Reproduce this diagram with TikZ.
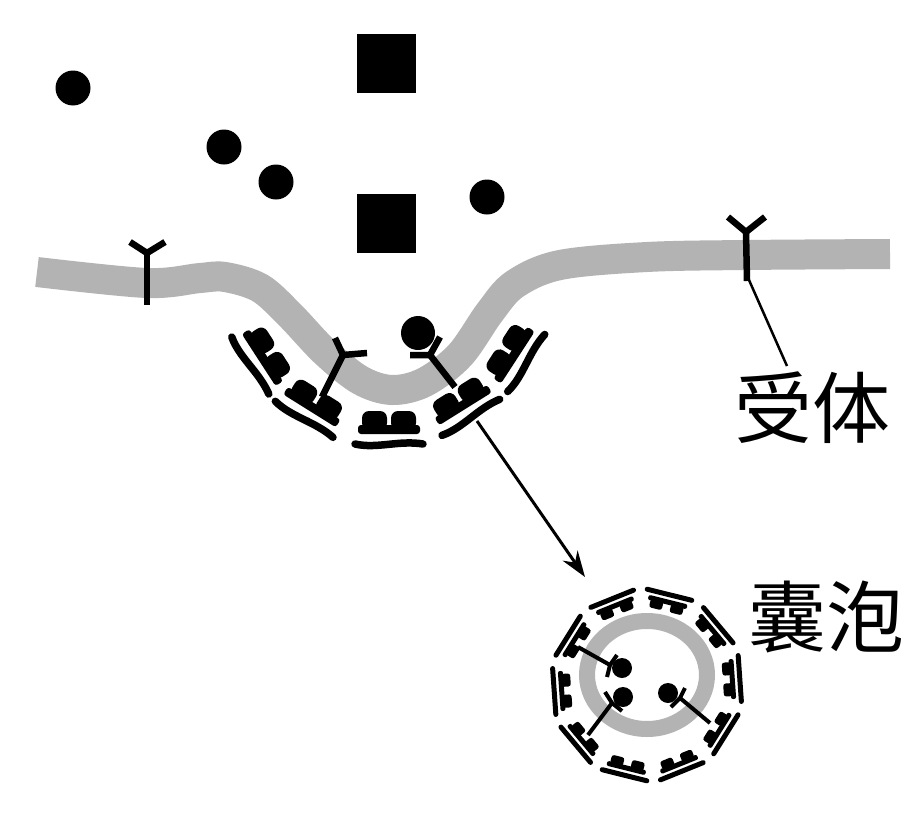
\documentclass[tikz,border=0pt]{standalone}
\usepackage{fontspec}
\newfontfamily\cjk{Noto Sans CJK SC}
\usetikzlibrary{arrows.meta}
\definecolor{membgray}{RGB}{179,179,179}
\tikzset{
  memb/.style={line width=30pt, draw=membgray},
  recline/.style={line width=6.5pt},
  vrecline/.style={line width=4pt},
  lbl/.style={font=\cjk\fontsize{78}{80}\selectfont, inner sep=0pt},
  pitcoat/.pic={
    \draw[line width=7.5pt,line cap=round] (-34,11) .. controls (-12,16) and (10,7) .. (34,11);
    \fill[rounded corners=3pt] (-31,-8) rectangle (31,1);
    \fill[rounded corners=7pt] (-27,-22) rectangle (-2,-3);
    \fill[rounded corners=7pt] (2,-22) rectangle (27,-3);
  },
  vescoat/.pic={
    \draw[line width=5pt,line cap=round] (-23,9) -- (23,9);
    \fill[rounded corners=2pt] (-20,-1) rectangle (20,4);
    \fill[rounded corners=2.5pt] (-17,-8) rectangle (-4,1);
    \fill[rounded corners=2.5pt] (4,-8) rectangle (17,1);
  }
}
\begin{document}
\begin{tikzpicture}[x=1pt,y=-1pt]
\useasboundingbox (0,0) rectangle (914,822);
\fill[white] (0,0) rectangle (914,822);

% ligands
\fill (73,88) circle (17.5);
\fill (224,147) circle (17.5);
\fill (276,182) circle (17.5);
\fill (487,197) circle (17.5);
\fill (357,34) rectangle (416,93);
\fill (357,194) rectangle (416,253);

% membrane
\draw[memb] plot[smooth, tension=0.55] coordinates {
  (37,272) (147,283) (200,278) (225,277) (260,288) (290,315) (325,352)
  (360,380) (392,390) (425,382) (460,355) (490,312) (515,284) (560,265)
  (647,257) (745,255) (890,254)};

% surface receptors
\draw[recline] (147,305) -- (147,253);
\draw[recline] (130,242) -- (147,253) -- (165,242);
\draw[recline] (747,281) -- (746,232);
\draw[recline] (728,217) -- (746,232) -- (765,217);

% pit coat
\pic[rotate=-57] at (259.5,359.5) {pitcoat};
\pic[rotate=-32] at (310,410) {pitcoat};
\pic at (389,433) {pitcoat};
\pic[rotate=32] at (465,408) {pitcoat};
\pic[rotate=57] at (517,357) {pitcoat};

% pit receptors
\draw[recline] (322,397) -- (343,355);
\draw[recline] (335,338) -- (343,355) -- (367,353);
\fill (418,333) circle (17);
\draw[recline] (455,387) -- (430,355);
\draw[recline] (410,355) -- (430,355) -- (440,337);

% vesicle
\draw[line width=16pt, draw=membgray] (647,675) ellipse (60 and 54);
\foreach \a in {4,40,...,328}
  \pic[rotate=\a+90] at ({647+84*cos(\a)},{685-84*sin(\a)}) {vescoat};
\fill (622,668) circle (10);
\fill (623,697) circle (10);
\fill (668,693) circle (10);
\draw[vrecline] (578,647) -- (610,665);
\draw[vrecline] (617,655) -- (610,665) -- (607,677);
\draw[vrecline] (588,735) -- (612,703);
\draw[vrecline] (605,692) -- (612,703) -- (622,711);
\draw[vrecline] (710,723) -- (680,698);
\draw[vrecline] (685,688) -- (680,698) -- (671,707);

% labels and connectors
\node[lbl] (rlabel) at (812,408) {受体};
\node[lbl] (vlabel) at (826,617) {囊泡};
\coordinate (recfoot) at (749,280);
\coordinate (leadend) at (787,366);
\draw[line width=2.5pt] (recfoot) -- (leadend);
\coordinate (arrS) at (477,421);
\coordinate (arrE) at (585,577);
\draw[line width=3pt, -{Stealth[length=26pt,width=18pt]}] (arrS) -- (arrE);
\end{tikzpicture}
\end{document}
